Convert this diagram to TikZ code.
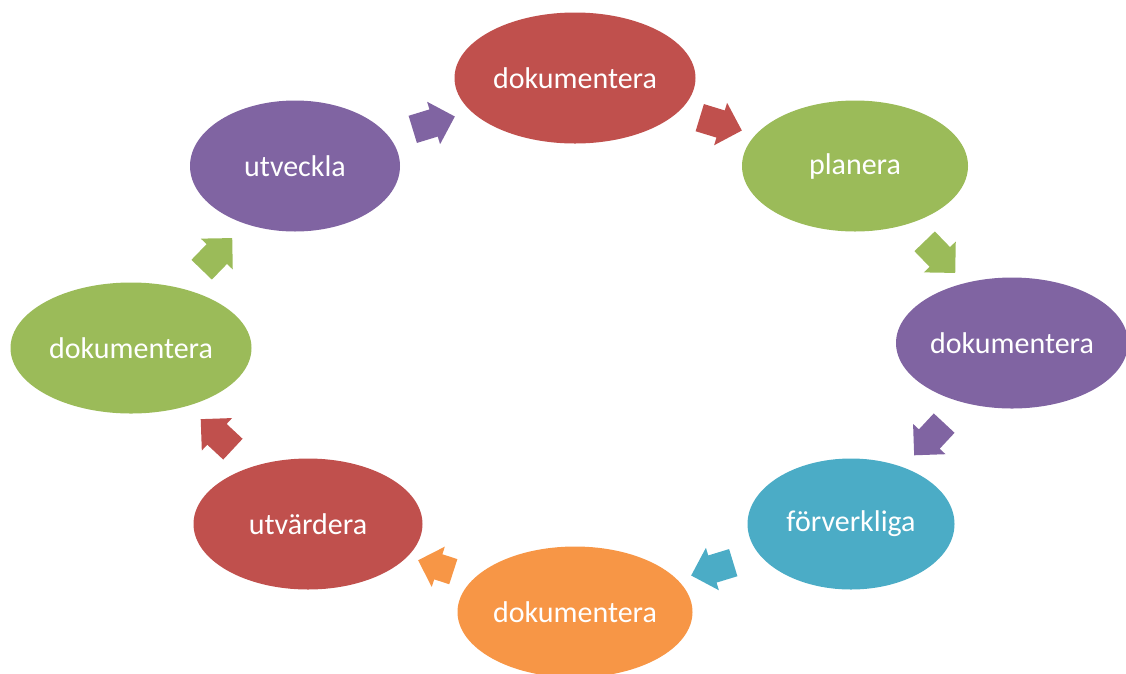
\documentclass[tikz,border=0pt]{standalone}
\usepackage{fontspec}
\setmainfont{Carlito}
\usetikzlibrary{shapes.geometric,shapes.arrows}

\definecolor{redA}{HTML}{C0504D}
\definecolor{greenA}{HTML}{9BBB59}
\definecolor{purpleA}{HTML}{8064A2}
\definecolor{tealA}{HTML}{4BACC6}
\definecolor{orangeA}{HTML}{F79646}

\begin{document}
\begin{tikzpicture}[x=1pt,y=-1pt,
    stage/.style={ellipse,fill=#1,text=white,inner sep=0pt,minimum height=131pt,
        font=\fontsize{30}{36}\selectfont},
    turn/.style={single arrow,fill=#1,inner xsep=0pt,inner ysep=14pt,minimum height=44pt,
        single arrow head extend=8pt,single arrow tip angle=90}]
    \useasboundingbox (0,0) rectangle (1126,673);
    \node[stage=redA,minimum width=241pt] (dok1) at (575,78) {dokumentera};
    \node[stage=greenA,minimum width=226pt] (plan) at (855,166) {planera};
    \node[stage=purpleA,minimum width=232pt] (dok2) at (1012,343) {dokumentera};
    \node[stage=tealA,minimum width=207pt] (forv) at (851,524) {förverkliga};
    \node[stage=orangeA,minimum width=235pt] (dok3) at (575,612) {dokumentera};
    \node[stage=redA,minimum width=229pt] (utva) at (308,524) {utvärdera};
    \node[stage=greenA,minimum width=241pt] (dok4) at (131,348) {dokumentera};
    \node[stage=purpleA,minimum width=210pt] (utve) at (295,166) {utveckla};
    \node[turn=purpleA,rotate=17] (t1) at (427,125) {};
    \node[turn=redA,rotate=-17] (t2) at (714,122) {};
    \node[turn=greenA,rotate=-46] (t3) at (935,252) {};
    \node[turn=purpleA,rotate=-133] (t4) at (934,434) {};
    \node[turn=tealA,rotate=-163] (t5) at (719,567) {};
    \node[turn=orangeA,rotate=162,minimum height=37pt,inner ysep=13pt] (t6) at (442,568) {};
    \node[turn=redA,rotate=137] (t7) at (222,439) {};
    \node[turn=greenA,rotate=46] (t8) at (212,259) {};
\end{tikzpicture}
\end{document}
